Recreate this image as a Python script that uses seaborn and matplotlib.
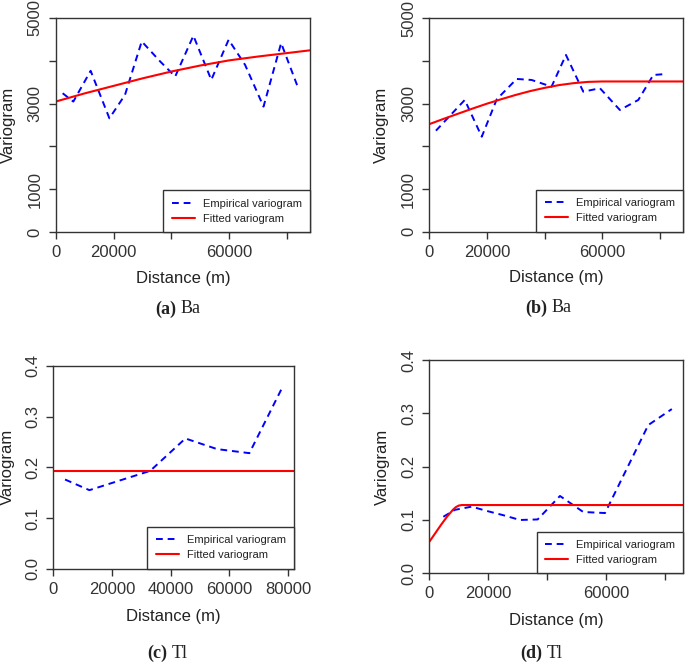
import matplotlib
matplotlib.use("Agg")
import matplotlib.pyplot as plt
import pandas as pd
import seaborn as sns

# ---------------- data ----------------
a_emp_dist = [2300, 6000, 12000, 18500, 23900, 29700, 36100, 41300, 47600, 53800, 59800, 65500, 71900, 78000, 83800]
a_emp_gamma = [3242, 3047, 3766, 2656, 3203, 4453, 3984, 3633, 4586, 3555, 4492, 3906, 2930, 4414, 3383]
a_fit_dist = [0, 10000, 20000, 30000, 40000, 50000, 60000, 70000, 80000, 88000]
a_fit_gamma = [3050, 3240, 3415, 3590, 3750, 3890, 4010, 4100, 4180, 4245]

b_emp_dist = [2300, 12300, 18200, 23400, 30300, 35500, 42400, 47400, 53400, 59200, 66100, 72500, 77700, 82300]
b_emp_gamma = [2367, 3087, 2226, 3103, 3579, 3555, 3398, 4141, 3281, 3361, 2852, 3087, 3672, 3696]
b_fit_dist = [0, 5000, 10000, 15000, 20000, 25000, 30000, 35000, 40000, 45000, 50000, 55000, 60000, 88000]
b_fit_gamma = [2520, 2645, 2765, 2885, 3000, 3105, 3205, 3295, 3370, 3435, 3480, 3510, 3520, 3520]

c_emp_dist = [4000, 12300, 22600, 33000, 45000, 55800, 66800, 78300]
c_emp_gamma = [0.176, 0.155, 0.174, 0.193, 0.257, 0.236, 0.228, 0.361]
c_fit_dist = [0, 82000]
c_fit_gamma = [0.192, 0.192]

d_emp_dist = [4760, 8700, 14400, 19500, 25100, 30800, 36800, 44400, 52300, 59700, 74400, 82400]
d_emp_gamma = [0.106, 0.119, 0.125, 0.117, 0.109, 0.100, 0.101, 0.145, 0.115, 0.113, 0.278, 0.308]
d_fit_dist = [0, 2000, 4000, 6000, 8000, 9000, 10000, 11000, 86300]
d_fit_gamma = [0.059, 0.075, 0.091, 0.106, 0.119, 0.124, 0.127, 0.128, 0.128]

ba_yticks = [0, 1000, 2000, 3000, 4000, 5000]
ba_yticklabels = ["0", "1000", "", "3000", "", "5000"]
tl_yticks = [0.0, 0.1, 0.2, 0.3, 0.4]
tl_yticklabels = ["0.0", "0.1", "0.2", "0.3", "0.4"]
xticks = [0, 20000, 40000, 60000, 80000]
xticklabels_sparse = ["0", "20000", "", "60000", ""]
xticklabels_full = ["0", "20000", "40000", "60000", "80000"]

captions = [("(a)", "Ba"), ("(b)", "Ba"), ("(c)", "Tl"), ("(d)", "Tl")]

# ---------------- style ----------------
sns.set_style("ticks")
plt.rcParams["font.family"] = ["Liberation Sans", "DejaVu Sans"]
plt.rcParams["text.color"] = "#222222"
plt.rcParams["axes.labelcolor"] = "#222222"
plt.rcParams["xtick.color"] = "#333333"
plt.rcParams["ytick.color"] = "#333333"

W, H = 685, 662
fig = plt.figure(figsize=(W / 100, H / 100), dpi=100)

# axes boxes in pixels: left, top, right, bottom
boxes = [(56, 18, 310, 232), (429.3, 18.3, 683, 231.7),
         (53.3, 366, 294, 568.7), (429.3, 360, 683.3, 573.3)]
xlims = [(0, 88000), (0, 88000), (0, 82000), (0, 86300)]
ylims = [(0, 5000), (0, 5000), (0, 0.4), (0, 0.4)]
emp = [(a_emp_dist, a_emp_gamma), (b_emp_dist, b_emp_gamma),
       (c_emp_dist, c_emp_gamma), (d_emp_dist, d_emp_gamma)]
fit = [(a_fit_dist, a_fit_gamma), (b_fit_dist, b_fit_gamma),
       (c_fit_dist, c_fit_gamma), (d_fit_dist, d_fit_gamma)]
xlab_off = [46, 46, 48, 47]
ylab_off = [48, 47.6, 46, 47]
# caption left start x, centre y (pixels)
cap_pos = [(155, 309), (525, 308), (147, 653), (520, 653)]

serif = ["Liberation Serif", "DejaVu Serif"]
bold_texts = []
for i in range(4):
    l, t, r, b = boxes[i]
    ax = fig.add_axes([l / W, 1 - b / H, (r - l) / W, (b - t) / H])
    de = pd.DataFrame({"dist": emp[i][0], "gamma": emp[i][1]})
    dfit = pd.DataFrame({"dist": fit[i][0], "gamma": fit[i][1]})
    sns.lineplot(data=de, x="dist", y="gamma", ax=ax, color="#0000FF",
                 linewidth=1.4, linestyle=(0, (3.5, 2.5)), estimator=None,
                 sort=False, label="Empirical variogram")
    sns.lineplot(data=dfit, x="dist", y="gamma", ax=ax, color="#FF0000",
                 linewidth=1.5, estimator=None, sort=False,
                 label="Fitted variogram")
    ax.set_xlim(*xlims[i])
    ax.set_ylim(*ylims[i])
    ax.set_xticks(xticks)
    ax.set_xticklabels(xticklabels_full if i == 2 else xticklabels_sparse)
    if i < 2:
        ax.set_yticks(ba_yticks)
        ax.set_yticklabels(ba_yticklabels)
    else:
        ax.set_yticks(tl_yticks)
        ax.set_yticklabels(tl_yticklabels)
    ax.tick_params(axis="both", direction="out", length=5, width=1,
                   labelsize=12, pad=4.5)
    ax.tick_params(axis="y", labelrotation=90)
    for lab in ax.get_yticklabels():
        lab.set_va("center")
    for sp in ax.spines.values():
        sp.set_color("#333333")
        sp.set_linewidth(1)
    wpx, hpx = r - l, b - t
    ax.set_xlabel("Distance (m)", fontsize=12)
    ax.set_ylabel("Variogram", fontsize=12)
    ax.xaxis.set_label_coords(0.5, -xlab_off[i] / hpx)
    ax.xaxis.label.set_va("center")
    ax.yaxis.set_label_coords(-ylab_off[i] / wpx, 0.5)
    ax.yaxis.label.set_va("center")
    leg = ax.legend(loc="lower right", bbox_to_anchor=(1, 0), borderaxespad=0,
                    fontsize=8, frameon=True, fancybox=False, framealpha=1,
                    edgecolor="#333333", handlelength=2.1, handletextpad=0.7,
                    labelspacing=0.45, borderpad=0.75)
    leg.get_frame().set_linewidth(1)

    cx, cy = cap_pos[i]
    tb = fig.text(cx / W, 1 - cy / H, captions[i][0], ha="left", va="center",
                  fontsize=13, fontweight="bold", family=serif)
    bold_texts.append(tb)

fig.canvas.draw()
renderer = fig.canvas.get_renderer()
for i, tb in enumerate(bold_texts):
    bb = tb.get_window_extent(renderer)
    cy = cap_pos[i][1]
    fig.text((bb.x1 + 4.5) / W, 1 - cy / H, captions[i][1], ha="left", va="center",
             fontsize=13, family=serif)

fig.savefig("out.png", dpi=100)
